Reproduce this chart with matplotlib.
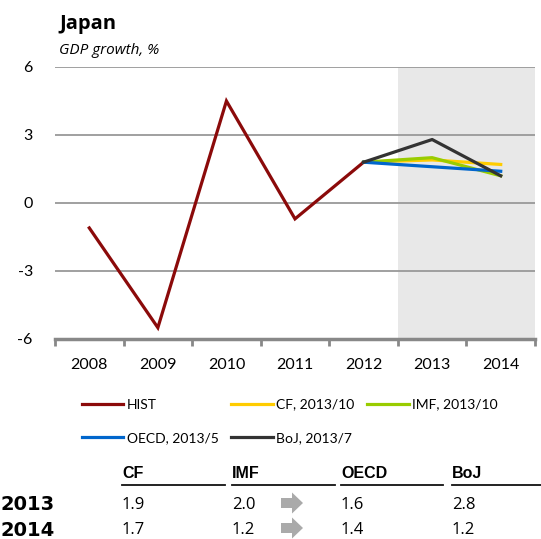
import numpy as np
import matplotlib
matplotlib.use('Agg')
import matplotlib.pyplot as plt
from matplotlib.patches import FancyArrow
from matplotlib.lines import Line2D

years = ['2008', '2009', '2010', '2011', '2012', '2013', '2014']
hist  = [-1.1, -5.5, 4.5, -0.7, 1.8]

fc_names  = ['CF', 'IMF', 'OECD', 'BoJ']
fc_labels = ['CF, 2013/10', 'IMF, 2013/10', 'OECD, 2013/5', 'BoJ, 2013/7']
fc_2013   = [1.9, 2.0, 1.6, 2.8]
fc_2014   = [1.7, 1.2, 1.4, 1.2]
fc_colors = ['#ffcc00', '#99cc00', '#0066cc', '#333333']
HIST_C    = '#8b0a0a'
GRID_C    = '#999999'

plt.rcParams['font.family'] = ['Lato', 'DejaVu Sans']

fig = plt.figure(figsize=(5.41, 5.39), dpi=100)
W, H = 541, 539
ax = fig.add_axes([55 / W, 1 - 339 / H, 480 / W, 272 / H])

x = np.arange(len(years))
ax.axvspan(4.5, 6.5, color='#e8e8e8', zorder=0, lw=0)

for yv in [6, 3, 0, -3]:
  ax.axhline(yv, color=GRID_C, lw=1.3, zorder=1)

ax.plot(x[:len(hist)], hist, color=HIST_C, lw=2.3, zorder=3, solid_joinstyle='miter')

fx = x[len(hist) - 1:]
for (name, a, b, c) in zip(fc_labels, fc_2013, fc_2014, fc_colors):
  ax.plot(fx, [hist[-1], a, b], color=c, lw=2.3, zorder=4)

ax.set_xlim(-0.5, 6.5)
ax.set_ylim(-6, 6)
ax.set_yticks([-6, -3, 0, 3, 6])
ax.set_yticklabels(['-6', '-3', '0', '3', '6'])
ax.set_xticks(x)
ax.set_xticklabels(years)
ax.set_xticks(np.arange(-0.5, 7, 1), minor=True)
ax.tick_params(axis='y', length=0, pad=16, labelsize=11.5)
ax.tick_params(axis='x', which='major', length=0, pad=14, labelsize=11.5)
ax.tick_params(axis='x', which='minor', length=5, width=2, color='#888888', direction='out')
for s in ['top', 'right', 'left']:
  ax.spines[s].set_visible(False)
ax.spines['bottom'].set_color('#888888')
ax.spines['bottom'].set_linewidth(2.5)
ax.spines['bottom'].set_zorder(5)

fig.text(59 / W, 1 - 24 / H, 'Japan', fontsize=14.5, fontweight='bold',
         family=['Open Sans', 'DejaVu Sans'], va='center')
fig.text(59 / W, 1 - 51 / H, 'GDP growth, %', fontsize=11, style='italic',
         family=['Open Sans', 'DejaVu Sans'], va='center')

# legend, rows: HIST CF IMF / OECD BoJ
hs = [Line2D([], [], color=HIST_C, lw=2.3)] + \
     [Line2D([], [], color=c, lw=2.3) for c in fc_colors]
labs = ['HIST'] + fc_labels
order = [0, 3, 1, 4, 2]
leg = fig.legend([hs[i] for i in order], [labs[i] for i in order],
                 ncol=3, loc='upper left', bbox_to_anchor=(76 / W, 1 - 393 / H),
                 frameon=False, fontsize=10, handlelength=3.0, handletextpad=0.25,
                 columnspacing=0.9, labelspacing=1.55, borderaxespad=0)

# table
col_x  = [122, 232, 341, 452]
line_x = [(122, 225), (232, 335), (341, 443), (452, 541)]
for (n, cx, (l0, l1)) in zip(fc_names, col_x, line_x):
  fig.text(cx / W, 1 - 473 / H, n, fontsize=11.5, fontweight='bold',
           family=['Liberation Sans', 'DejaVu Sans'], va='center')
  fig.add_artist(Line2D([l0 / W, l1 / W], [1 - 485 / H, 1 - 485 / H],
                        color='#111111', lw=1.3))

rows = [('2013', fc_2013, 505), ('2014', fc_2014, 530)]
for (lab, vals, ry) in rows:
  fig.text(1 / W, 1 - ry / H, lab, fontsize=14, fontweight='bold',
           family=['DejaVu Sans'], va='center')
  for (v, cx) in zip(vals, col_x):
    fig.text(cx / W, 1 - ry / H, '%.1f' % v, fontsize=12,
             family=['Open Sans', 'DejaVu Sans'], va='center')
  fig.add_artist(FancyArrow(281 / 100, (H - ry + 2) / 100, 0.11, 0, width=0.10,
                            head_width=0.21, head_length=0.11,
                            length_includes_head=False, color='#aaaaaa', lw=0,
                            transform=fig.dpi_scale_trans))

plt.savefig('out.png', dpi=100)
